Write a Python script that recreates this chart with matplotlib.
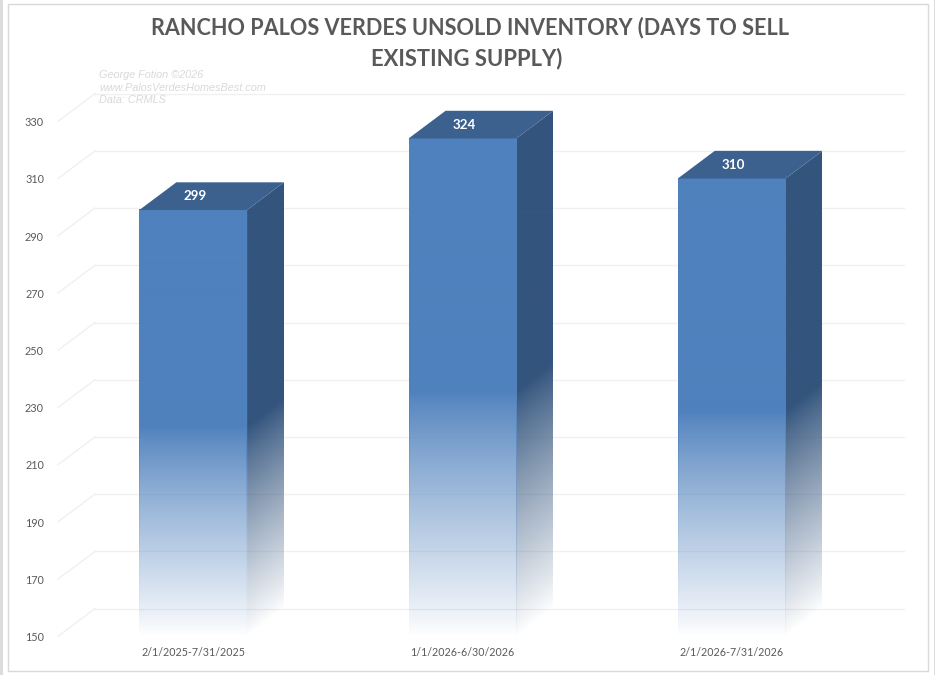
import matplotlib
matplotlib.use("Agg")
import matplotlib.pyplot as plt
import numpy as np
from matplotlib.colors import to_rgb
from matplotlib.patches import Polygon, Rectangle

labels = ["2/1/2025-7/31/2025", "1/1/2026-6/30/2026", "2/1/2026-7/31/2026"]
values = [299, 324, 310]
yticks = [150, 170, 190, 210, 230, 250, 270, 290, 310, 330]
title_lines = ["RANCHO PALOS VERDES UNSOLD INVENTORY (DAYS TO SELL", "EXISTING SUPPLY)"]
note = "George Fotion ©2026\nwww.PalosVerdesHomesBest.com\nData: CRMLS"

W, H = 935, 675
PX_X = 269.2       # px per category
PX_Y = 2.861       # px per value unit
X0 = 58.6          # px where the first category slot starts
Y0 = 636.3         # px of value 150 on the front plane
DX = 37 / PX_X     # depth offset in data units
DY = 27.7 / PX_Y
BAR_W = 107.7 / PX_X


def px_x(px):
    return (px - X0) / PX_X - 0.5


def px_y(py):
    return 150 + (Y0 - py) / PX_Y


fig = plt.figure(figsize=(W / 100, H / 100), dpi=100)
fig.patch.set_facecolor("white")
ax = fig.add_axes([0, 0, 1, 1])
ax.axis("off")

# window edges and chart border
ax.add_patch(Rectangle((px_x(0), px_y(H)), px_x(2.5) - px_x(0), px_y(0) - px_y(H),
                       fc="#dcdcdc", ec="none", zorder=0))
ax.add_patch(Rectangle((px_x(934), px_y(H)), px_x(W) - px_x(934), px_y(0) - px_y(H),
                       fc="#dcdcdc", ec="none", zorder=0))
ax.add_patch(Rectangle((px_x(7.5), px_y(670.5)), px_x(927.5) - px_x(7.5), px_y(3.5) - px_y(670.5),
                       fc="white", ec="#d9d9d9", lw=1, zorder=0.2))

# gridlines, back wall and floor
x_left = px_x(58)
x_right = px_x(904 - 37)
for v in yticks:
    ax.plot([x_left, x_left + DX], [v, v + DY], color="#f0f0f0", lw=1, zorder=1)
    ax.plot([x_left + DX, x_right + DX], [v + DY, v + DY], color="#f0f0f0", lw=1, zorder=1)
    ax.text(px_x(44), v - 0.45, str(v), ha="right", va="center",
            fontsize=7.8, family="Lato", color="#595959")

BLUE = np.array(to_rgb("#4f81bd"))
SIDE = np.array(to_rgb("#33547d"))
TOP = "#3c618f"


def fade(color, t):
    # solid down to about half of the bar, then fading out (t: 0 top, 1 bottom)
    t = np.clip(t, 0, 1)
    a = np.clip((1 - t) / 0.49, 0, 1) ** 0.85
    mix = 0.25 * np.clip((t - 0.51) / 0.49, 0, 1) ** 0.7
    img = np.zeros(t.shape + (4,))
    img[..., :3] = color * (1 - mix[..., None]) + mix[..., None]
    img[..., 3] = a
    return img


for i, v in enumerate(values):
    l, r = i - BAR_W / 2, i + BAR_W / 2

    # side face: the fade runs along the slanted floor edge
    side = Polygon([(r, 150), (r, v), (r + DX, v + DY), (r + DX, 150 + DY)],
                   fc="none", ec="none")
    ax.add_patch(side)
    xs = np.linspace(0, 1, 37)
    ys = np.linspace(v + DY, 150, 512)
    gx, gy = np.meshgrid(xs, ys)
    t = 1 - (gy - (150 + gx * DY)) / (v - 150)
    im = ax.imshow(fade(SIDE, t), extent=(r, r + DX, 150, v + DY), origin="upper", aspect="auto",
                   zorder=3, interpolation="bilinear")
    im.set_clip_path(side)

    # front face, edge columns a little stronger
    t = np.tile(np.linspace(0, 1, 512)[:, None], (1, 108))
    img = fade(BLUE, t)
    img[:, [0, -1], 3] = np.clip(img[:, [0, -1], 3] * 1.12, 0, 1)
    ax.imshow(img, extent=(l, r, 150, v), origin="upper", aspect="auto", zorder=4,
              interpolation="bilinear")

    # top face
    ax.add_patch(Polygon([(l, v), (r, v), (r + DX, v + DY), (l + DX, v + DY)],
                         fc=TOP, ec="none", zorder=5))
    ax.text(i + 0.006, v + DY / 2, str(v), ha="center", va="center", fontsize=9.6,
            family="Lato", fontweight="bold", color="white", zorder=6)
    ax.text(i, px_y(652), labels[i], ha="center", va="center", fontsize=7.7,
            family="Lato", color="#595959")

ax.set_xlim(px_x(0), px_x(W))
ax.set_ylim(px_y(H), px_y(0))

ax.text(px_x(470), px_y(28), title_lines[0], ha="center", va="center", fontsize=15.6,
        family="Lato", fontweight="bold", color="#595959")
ax.text(px_x(467), px_y(59), title_lines[1], ha="center", va="center", fontsize=15.8,
        family="Lato", fontweight="bold", color="#595959")
ax.text(px_x(99), px_y(87.5), note, ha="left", va="center", fontsize=7.8,
        family="Liberation Sans", style="italic", color="#d9d9d9", linespacing=1.3, zorder=2)

fig.savefig("out.png", dpi=100)
